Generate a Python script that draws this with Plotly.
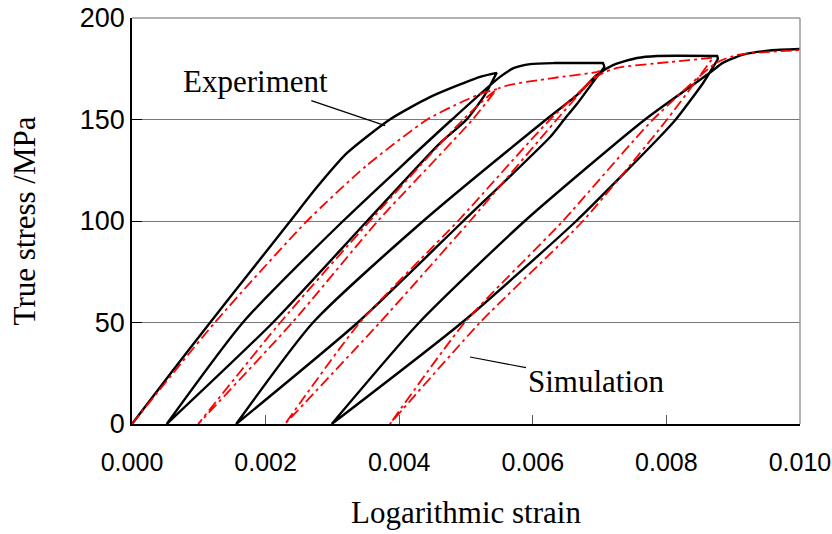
import plotly.graph_objects as go

# ---- Experiment (measured), branch by branch ----
exp_load_strain = [0.0, 0.00058, 0.00117, 0.00177, 0.00237, 0.00277, 0.00322, 0.00386, 0.00446, 0.00521, 0.00546]
exp_load_stress = [0.0, 25.0, 50.0, 75.0, 100.0, 116.7, 133.5, 150.0, 161.0, 171.0, 173.0]

exp_unload1_strain = [0.00546, 0.00528, 0.00501, 0.00460, 0.00352, 0.00211, 0.00052]
exp_unload1_stress = [173.0, 162.0, 150.0, 138.0, 100.0, 50.0, 0.0]

exp_reload1_strain = [0.00052, 0.00166, 0.00316, 0.00479, 0.00551, 0.00572, 0.00596, 0.00632, 0.00705]
exp_reload1_stress = [0.0, 50.0, 100.0, 150.0, 171.0, 175.4, 177.3, 177.8, 177.8]

exp_unload2_strain = [0.00705, 0.00707, 0.00696, 0.00666, 0.00647, 0.00626, 0.00496, 0.00338, 0.00156]
exp_unload2_stress = [177.8, 176.0, 171.0, 157.6, 150.0, 141.4, 100.0, 50.0, 0.0]

exp_reload2_strain = [0.00156, 0.00271, 0.00436, 0.00620, 0.00666, 0.00696, 0.00720, 0.00756, 0.00786, 0.00876]
exp_reload2_stress = [0.0, 50.0, 100.0, 150.0, 162.0, 171.9, 176.8, 180.3, 181.3, 181.3]

exp_unload3_strain = [0.00876, 0.00877, 0.00870, 0.00855, 0.00814, 0.00790, 0.00665, 0.00494, 0.00299]
exp_unload3_stress = [181.3, 180.0, 175.9, 168.0, 150.0, 141.4, 100.0, 50.0, 0.0]

exp_reload3_strain = [0.00299, 0.00430, 0.00588, 0.00768, 0.00865, 0.00885, 0.00915, 0.00955, 0.01000]
exp_reload3_stress = [0.0, 50.0, 100.0, 150.0, 173.0, 178.0, 182.0, 184.0, 184.7]

# ---- Simulation, branch by branch ----
sim_load_strain = [0.0, 0.00124, 0.00262, 0.00350, 0.00442, 0.00496, 0.00521, 0.00546]
sim_load_stress = [0.0, 50.0, 100.0, 127.0, 150.0, 159.0, 162.5, 165.0]

sim_unload1_strain = [0.00546, 0.00510, 0.00368, 0.00240, 0.00099]
sim_unload1_stress = [165.0, 150.0, 100.0, 50.0, 0.0]

sim_reload1_strain = [0.00099, 0.00222, 0.00356, 0.00496, 0.00550, 0.00630, 0.00696, 0.00700]
sim_reload1_stress = [0.0, 50.0, 100.0, 150.0, 165.5, 170.4, 173.4, 174.0]

sim_unload2_strain = [0.00700, 0.00636, 0.00506, 0.00371, 0.00229]
sim_unload2_stress = [174.0, 150.0, 100.0, 50.0, 0.0]

sim_reload2_strain = [0.00229, 0.00341, 0.00488, 0.00626, 0.00700, 0.00726, 0.00805, 0.00865, 0.00870]
sim_reload2_stress = [0.0, 50.0, 100.0, 150.0, 172.0, 175.4, 178.3, 180.3, 180.5]

sim_unload3_strain = [0.00870, 0.00801, 0.00675, 0.00521, 0.00386]
sim_unload3_stress = [180.5, 150.0, 100.0, 50.0, 0.0]

sim_reload3_strain = [0.00386, 0.00498, 0.00645, 0.00780, 0.00875, 0.00906, 0.00955, 0.01000]
sim_reload3_stress = [0.0, 50.0, 100.0, 150.0, 178.0, 181.8, 183.3, 184.2]

x_ticks = [0.000, 0.002, 0.004, 0.006, 0.008, 0.010]
x_tick_text = ["0.000", "0.002", "0.004", "0.006", "0.008", "0.010"]
y_ticks = [0, 50, 100, 150, 200]
y_tick_text = ["0", "50", "100", "150", "200"]


def join(*parts):
    out = []
    for p in parts:
        out.extend(p)
    return out


exp_strain = join(exp_load_strain, exp_unload1_strain, exp_reload1_strain, exp_unload2_strain,
                  exp_reload2_strain, exp_unload3_strain, exp_reload3_strain)
exp_stress = join(exp_load_stress, exp_unload1_stress, exp_reload1_stress, exp_unload2_stress,
                  exp_reload2_stress, exp_unload3_stress, exp_reload3_stress)
sim_strain = join(sim_load_strain, sim_unload1_strain, sim_reload1_strain, sim_unload2_strain,
                  sim_reload2_strain, sim_unload3_strain, sim_reload3_strain)
sim_stress = join(sim_load_stress, sim_unload1_stress, sim_reload1_stress, sim_unload2_stress,
                  sim_reload2_stress, sim_unload3_stress, sim_reload3_stress)

fig = go.Figure()
fig.add_trace(go.Scatter(x=exp_strain, y=exp_stress, mode="lines", name="Experiment",
                         line=dict(color="black", width=2.4, shape="spline", smoothing=0.6)))
fig.add_trace(go.Scatter(x=sim_strain, y=sim_stress, mode="lines", name="Simulation",
                         line=dict(color="#ff0000", width=1.8, dash="11px,4px,3px,4px",
                                   shape="spline", smoothing=0.6)))

serif = "Liberation Serif, Times New Roman, serif"
sans = "Liberation Sans, Arial, sans-serif"

fig.update_layout(
    width=832, height=534,
    margin=dict(l=132, r=32, t=18, b=110),
    paper_bgcolor="white", plot_bgcolor="white",
    showlegend=False,
    xaxis=dict(
        range=[0, 0.0100001], tickvals=x_ticks, ticktext=x_tick_text,
        ticks="inside", ticklen=9, tickcolor="#555555", tickwidth=1,
        showgrid=False, zeroline=False, automargin=False,
        showline=True, linecolor="black", linewidth=1.5,
        tickfont=dict(family=sans, size=25, color="black"),
        ticklabelstandoff=15, ticklabeloverflow="allow",
        title=dict(text="Logarithmic strain", font=dict(family=serif, size=31, color="black"), standoff=27),
    ),
    yaxis=dict(
        range=[0, 200], tickvals=y_ticks, ticktext=y_tick_text,
        ticks="inside", ticklen=10, tickcolor="black", tickwidth=1,
        showgrid=True, gridcolor="#777777", gridwidth=1,
        zeroline=False, automargin=False,
        showline=True, linecolor="black", linewidth=1.5,
        tickfont=dict(family=sans, size=27, color="black"),
        ticklabelstandoff=0, ticklabeloverflow="allow",
    ),
    shapes=[
        dict(type="line", xref="paper", yref="paper", x0=0, x1=1, y0=1, y1=1,
             line=dict(color="#999999", width=1.5)),
        dict(type="line", xref="paper", yref="paper", x0=1, x1=1, y0=0, y1=1,
             line=dict(color="#999999", width=1.5)),
    ],
    annotations=[
        dict(xref="paper", yref="paper", x=-0.161, y=0.5, text="True stress /MPa",
             textangle=-90, showarrow=False, xanchor="center", yanchor="middle",
             font=dict(family=serif, size=31, color="black")),
        dict(x=0.00379, y=147, ax=-130, ay=-44, text="Experiment", showarrow=True,
             arrowhead=0, arrowwidth=1.2, arrowcolor="black", standoff=0,
             font=dict(family=serif, size=31, color="black")),
        dict(x=0.00506, y=33, ax=126, ay=24, text="Simulation", showarrow=True,
             arrowhead=0, arrowwidth=1.2, arrowcolor="black", standoff=0,
             font=dict(family=serif, size=31, color="black")),
    ],
)

fig.write_html("out.html")
